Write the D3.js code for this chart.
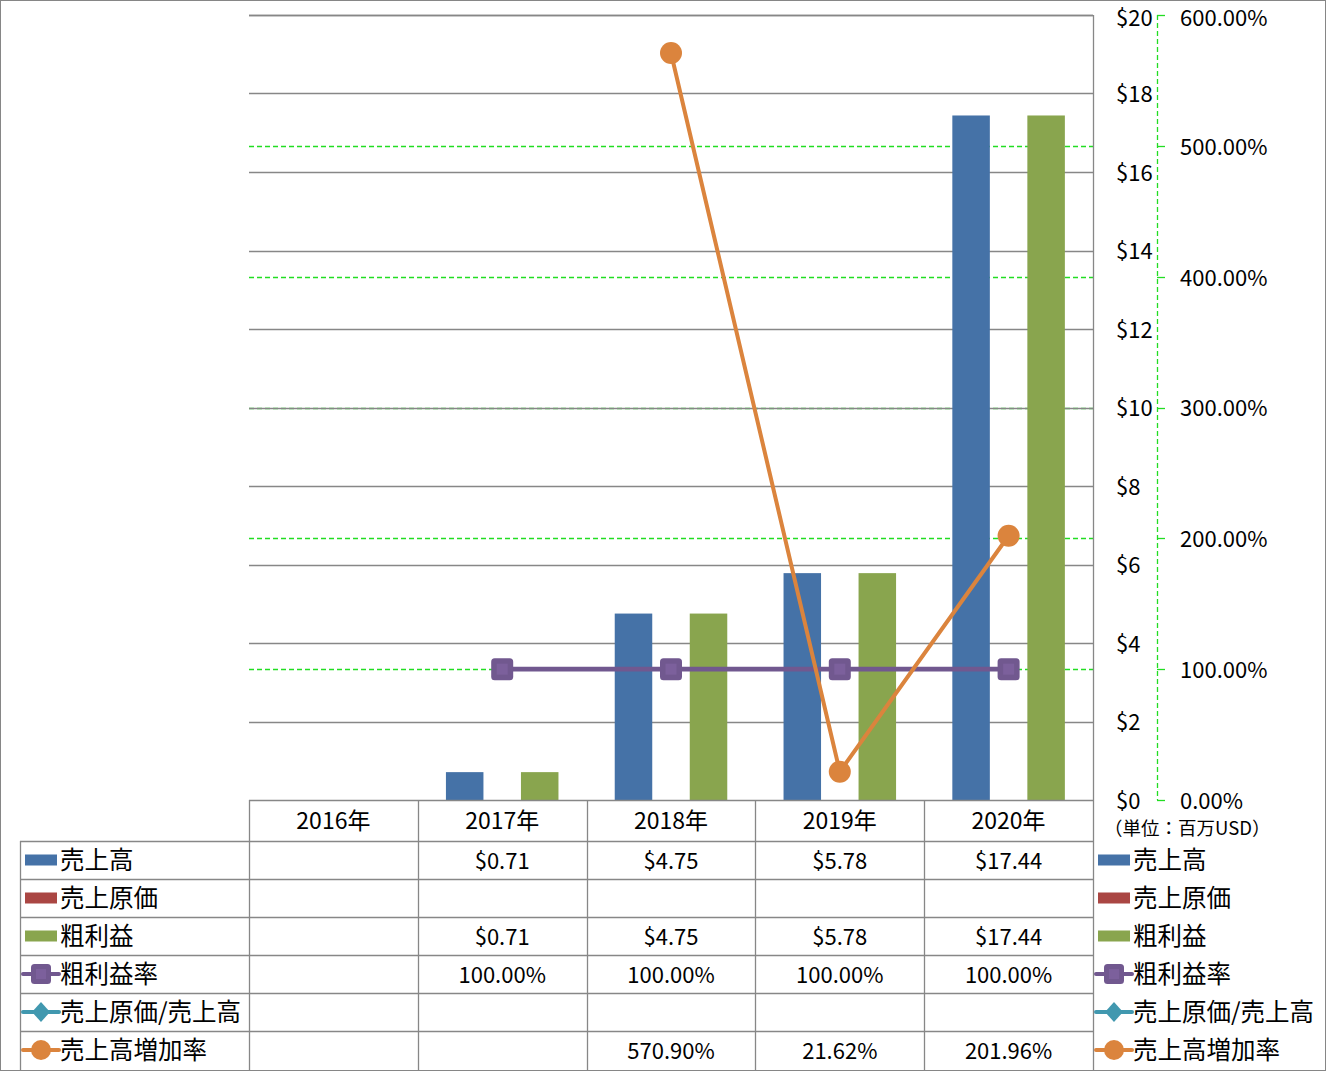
<!DOCTYPE html>
<html><head><meta charset="utf-8">
<script src="https://cdn.jsdelivr.net/npm/d3@7"></script>
<style>body{margin:0;background:#fff}svg{display:block}text{font-family:"Noto Sans CJK JP","Noto Sans",sans-serif;fill:#000}</style>
</head><body>
<svg id="chart" width="1326" height="1071"></svg>
<script>
// ---- data ----
const categories = ["2016年","2017年","2018年","2019年","2020年"];
const salesValues = [null, 0.71, 4.75, 5.78, 17.44];           // 売上高 (百万USD)
const cogsValues = [null, null, null, null, null];              // 売上原価
const grossValues = [null, 0.71, 4.75, 5.78, 17.44];           // 粗利益
const grossMarginValues = [null, 1.0, 1.0, 1.0, 1.0];          // 粗利益率
const cogsRatioValues = [null, null, null, null, null];        // 売上原価/売上高
const salesGrowthValues = [null, null, 5.709, 0.2162, 2.0196]; // 売上高増加率
const leftTicks = [0,2,4,6,8,10,12,14,16,18,20];
const rightTicks = [0,1,2,3,4,5,6];
const unitLabel = "（単位：百万USD）";

const barSeries = [
  {name:"売上高", values:salesValues, color:"#4572A7"},
  {name:"売上原価", values:cogsValues, color:"#AA4643"},
  {name:"粗利益", values:grossValues, color:"#89A54E"}
];
const lineSeries = [
  {name:"粗利益率", values:grossMarginValues, color:"#71588F", marker:"square"},
  {name:"売上原価/売上高", values:cogsRatioValues, color:"#4198AF", marker:"diamond"},
  {name:"売上高増加率", values:salesGrowthValues, color:"#DB843D", marker:"circle"}
];
const tableRows = [
  {s:barSeries[0], fmt:d3.format("$.2f"), kind:"bar"},
  {s:barSeries[1], fmt:d3.format("$.2f"), kind:"bar"},
  {s:barSeries[2], fmt:d3.format("$.2f"), kind:"bar"},
  {s:lineSeries[0], fmt:d3.format(".2%"), kind:"line"},
  {s:lineSeries[1], fmt:d3.format(".2%"), kind:"line"},
  {s:lineSeries[2], fmt:d3.format(".2%"), kind:"line"}
];

// ---- layout ----
const L = 249, R = 1093, T = 15, B = 800;
const headerH = 41, rowH = 38, legendLeft = 20;
const gridGray = "#878787", green = "#22dd22";
const FS = 23, LFS = 24.5, AFS = 22;

const svg = d3.select("#chart");
svg.append("rect").attr("x",0.5).attr("y",0.5).attr("width",1325).attr("height",1070)
  .attr("fill","#fff").attr("stroke","#868686");

const x0 = d3.scaleBand().domain(categories).range([L,R]);
const x1 = d3.scaleBand().domain(barSeries.map(d=>d.name)).range([0,x0.bandwidth()]).paddingInner(0).paddingOuter(0.75);
const yL = d3.scaleLinear().domain([0,20]).range([B,T]);
const yR = d3.scaleLinear().domain([0,6]).range([B,T]);
const cx = c => x0(c) + x0.bandwidth()/2;

// gridlines (secondary first, primary over it)
svg.append("g").selectAll("line").data(rightTicks.filter(t=>t>0 && t<6)).join("line")
  .attr("x1",L).attr("x2",R).attr("y1",d=>Math.round(yR(d))+0.5).attr("y2",d=>Math.round(yR(d))+0.5)
  .attr("stroke",green).attr("stroke-width",1.3).attr("stroke-dasharray","5,3");
svg.append("g").selectAll("line").data(leftTicks.filter(t=>t>0)).join("line")
  .attr("x1",L).attr("x2",R).attr("y1",d=>Math.round(yL(d))+0.5).attr("y2",d=>Math.round(yL(d))+0.5)
  .attr("stroke",gridGray).attr("stroke-width",1.3);

// bars
const barG = svg.append("g");
categories.forEach((c,i)=>{
  barSeries.forEach(s=>{
    const v = s.values[i];
    if (v == null) return;
    barG.append("rect").attr("x",x0(c)+x1(s.name)).attr("width",x1.bandwidth())
      .attr("y",yL(v)).attr("height",yL(0)-yL(v)).attr("fill",s.color);
  });
});

// marker drawing
function drawMarker(g, type, x, y, color, size){
  if (type==="square"){
    g.append("rect").attr("x",x-size/2).attr("y",y-size/2).attr("width",size).attr("height",size)
      .attr("rx",3.5).attr("fill",color);
    g.append("rect").attr("x",x-size/4).attr("y",y-size/4).attr("width",size/2).attr("height",size/2)
      .attr("fill",d3.color(color).brighter(0.25));
  } else if (type==="diamond"){
    const h = size/2;
    g.append("path").attr("d",`M${x},${y-h}L${x+h*0.9},${y}L${x},${y+h}L${x-h*0.9},${y}Z`).attr("fill",color);
  } else {
    g.append("circle").attr("cx",x).attr("cy",y).attr("r",size/2).attr("fill",color);
  }
}

// lines
const lineG = svg.append("g");
lineSeries.forEach(s=>{
  const pts = categories.map((c,i)=>({c, v:s.values[i]})).filter(d=>d.v!=null);
  if (!pts.length) return;
  const line = d3.line().x(d=>cx(d.c)).y(d=>yR(d.v));
  lineG.append("path").attr("d",line(pts)).attr("fill","none").attr("stroke",s.color)
    .attr("stroke-width",s.marker==="square"?4.7:4).attr("stroke-linejoin","round");
  pts.forEach(d=>drawMarker(lineG, s.marker, cx(d.c), yR(d.v), s.color, 22));
});

// top border line of plot
svg.append("line").attr("x1",L).attr("x2",R).attr("y1",T+0.5).attr("y2",T+0.5).attr("stroke",gridGray).attr("stroke-width",1.3);

// right plot border / table lines
const tl = svg.append("g").attr("stroke",gridGray).attr("stroke-width",1.3);
tl.append("line").attr("x1",R+0.5).attr("x2",R+0.5).attr("y1",T).attr("y2",1070);
tl.append("line").attr("x1",L).attr("x2",R).attr("y1",B+0.5).attr("y2",B+0.5);
categories.forEach(c=>{
  tl.append("line").attr("x1",Math.round(x0(c))+0.5).attr("x2",Math.round(x0(c))+0.5).attr("y1",B).attr("y2",1070);
});
tl.append("line").attr("x1",legendLeft+0.5).attr("x2",legendLeft+0.5).attr("y1",B+headerH).attr("y2",1070);
tableRows.forEach((r,i)=>{
  const y = B+headerH+i*rowH;
  tl.append("line").attr("x1",legendLeft).attr("x2",R).attr("y1",y+0.5).attr("y2",y+0.5);
});

// header labels
svg.append("g").selectAll("text").data(categories).join("text")
  .attr("x",d=>cx(d)).attr("y",B+headerH/2).attr("dy","0.36em").attr("text-anchor","middle")
  .attr("font-size",FS).text(d=>d);

// legend symbol
function legendSymbol(g, r, x, y){
  if (r.kind==="bar"){
    g.append("rect").attr("x",x+2).attr("y",y-5.5).attr("width",32).attr("height",11).attr("fill",r.s.color);
  } else {
    g.append("line").attr("x1",x).attr("x2",x+36).attr("y1",y).attr("y2",y).attr("stroke",r.s.color).attr("stroke-width",4).attr("stroke-linecap","round");
    drawMarker(g, r.s.marker, x+18, y, r.s.color, 20);
  }
}

// table rows
tableRows.forEach((r,i)=>{
  const yc = B+headerH+i*rowH+rowH/2;
  const g = svg.append("g");
  legendSymbol(g, r, 23, yc);
  g.append("text").attr("x",60).attr("y",yc).attr("dy","0.36em").attr("font-size",LFS).text(r.s.name);
  categories.forEach((c,j)=>{
    const v = r.s.values[j];
    if (v==null) return;
    g.append("text").attr("x",cx(c)).attr("y",yc+1).attr("dy","0.36em").attr("text-anchor","middle")
      .attr("font-size",FS-1).text(r.fmt(v));
  });
  // right legend
  legendSymbol(g, r, 1096, yc);
  g.append("text").attr("x",1133).attr("y",yc).attr("dy","0.36em").attr("font-size",LFS).text(r.s.name);
});

// keep label boxes inside the picture (font ascent is tall)
const labelY = y => Math.max(y + 1, T + 3);

// primary axis labels (right side)
svg.append("g").selectAll("text").data(leftTicks).join("text")
  .attr("x",1116).attr("y",d=>labelY(yL(d))).attr("dy","0.36em").attr("font-size",AFS)
  .text(d=>d3.format("$.0f")(d));

// secondary axis
const ax2 = svg.append("g");
ax2.append("line").attr("x1",1157.5).attr("x2",1157.5).attr("y1",T).attr("y2",B)
  .attr("stroke",green).attr("stroke-width",1.3).attr("stroke-dasharray","5,3");
ax2.selectAll("line.t").data(rightTicks).join("line").attr("class","t")
  .attr("x1",1157).attr("x2",1165).attr("y1",d=>Math.round(yR(d))+0.5).attr("y2",d=>Math.round(yR(d))+0.5)
  .attr("stroke",green).attr("stroke-width",1.3);
ax2.selectAll("text").data(rightTicks).join("text")
  .attr("x",1180).attr("y",d=>labelY(yR(d))).attr("dy","0.36em").attr("font-size",AFS)
  .text(d=>d3.format(".2%")(d));

svg.append("text").attr("x",1104).attr("y",828).attr("dy","0.36em").attr("font-size",18.5).text(unitLabel);
</script>
</body></html>
